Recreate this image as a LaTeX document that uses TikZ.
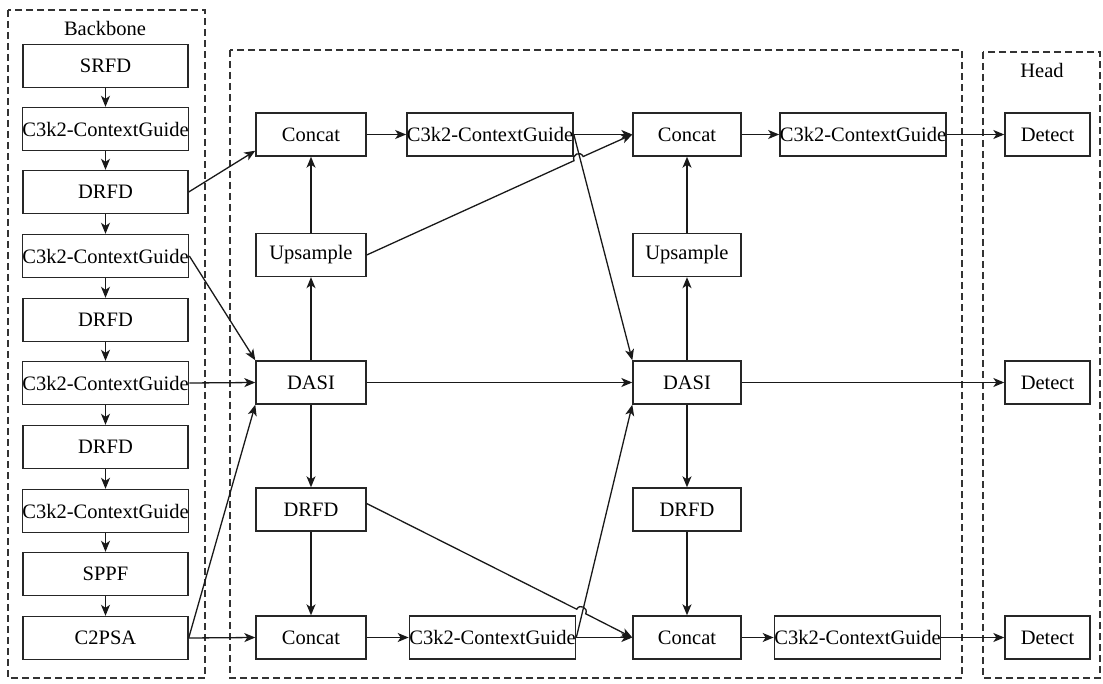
\documentclass[tikz,border=0pt]{standalone}
\usepackage{fontspec}
\setmainfont{Liberation Serif}
\usetikzlibrary{arrows.meta,calc}
\begin{document}
\begin{tikzpicture}[x=1pt,y=-1pt,
  box/.style={draw=black!85, line width=1.4pt, minimum height=43pt, inner sep=0pt,
    font=\fontsize{20.5}{24}\selectfont},
  bb/.style={box, minimum width=165pt},
  sm/.style={box, minimum width=110pt},
  wd/.style={box, minimum width=164pt},
  dt/.style={box, minimum width=85pt},
  ttl/.style={font=\fontsize{20.5}{24}\selectfont, inner sep=0pt},
  arr/.style={line width=1.3pt, draw=black!90, -{Stealth[length=11pt,width=9pt,inset=3pt]}},
  region/.style={draw=black!80, line width=1.3pt, dash pattern=on 7pt off 4pt},
]
\useasboundingbox (0,0) rectangle (1103,684);
% regions
\draw[region] (8,10) rectangle (205,678);
\draw[region] (230,50) rectangle (962,678);
\draw[region] (983,52) rectangle (1100,678);
\node[ttl] (tb) at (105,28) {Backbone};
\node[ttl] (th) at (1042,70) {Head};
% backbone
\node[bb] (b1)  at (105.5,66)  {SRFD};
\node[bb] (b2)  at (105.5,129) {C3k2-ContextGuide};
\node[bb] (b3)  at (105.5,192) {DRFD};
\node[bb] (b4)  at (105.5,256) {C3k2-ContextGuide};
\node[bb] (b5)  at (105.5,320) {DRFD};
\node[bb] (b6)  at (105.5,383) {C3k2-ContextGuide};
\node[bb] (b7)  at (105.5,447) {DRFD};
\node[bb] (b8)  at (105.5,511) {C3k2-ContextGuide};
\node[bb] (b9)  at (105.5,574) {SPPF};
\node[bb] (b10) at (105.5,638) {C2PSA};
% middle column 1
\node[sm] (c1) at (311,134.5) {Concat};
\node[sm] (u1) at (311,255)   {Upsample};
\node[sm] (d1) at (311,382.5) {DASI};
\node[sm] (r1) at (311,509.5) {DRFD};
\node[sm] (c5) at (311,637.5) {Concat};
% middle wide
\node[wd] (g1) at (490,134.5)   {C3k2-ContextGuide};
\node[wd] (g2) at (492.5,637.5) {C3k2-ContextGuide};
% middle column 3
\node[sm, minimum width=108pt] (c2) at (687,134.5) {Concat};
\node[sm, minimum width=108pt] (u2) at (687,255)   {Upsample};
\node[sm, minimum width=108pt] (d2) at (687,382.5) {DASI};
\node[sm, minimum width=108pt] (r2) at (687,509.5) {DRFD};
\node[sm, minimum width=108pt] (c6) at (687,637.5) {Concat};
% right wide
\node[wd] (g3) at (863,134.5)   {C3k2-ContextGuide};
\node[wd] (g4) at (857.5,637.5) {C3k2-ContextGuide};
% head
\node[dt] (t1) at (1047.5,134.5) {Detect};
\node[dt] (t2) at (1047.5,382.5) {Detect};
\node[dt] (t3) at (1047.5,637.5) {Detect};
% backbone chain
\foreach \a/\b in {b1/b2,b2/b3,b3/b4,b4/b5,b5/b6,b6/b7,b7/b8,b8/b9,b9/b10}
  \draw[arr] (\a) -- (\b);
% backbone to neck
\draw[arr] (b3.east) -- ($(c1.south west)+(0,-6)$);
\draw[arr] (b4.east) -- (d1.north west);
\draw[arr] (b6.east) -- (d1.west);
\draw[arr] (b10.east) -- (d1.south west);
\draw[arr] (b10.east) -- (c5.west);
% column 1
\draw[arr] (d1) -- (u1);
\draw[arr] (u1) -- (c1);
\draw[arr] (d1) -- (r1);
\draw[arr] (r1) -- (c5);
\draw[arr] (c1) -- (g1);
\draw[arr] (c5) -- (g2);
\draw[arr] (d1) -- (d2);
% crossing lines
\draw[arr] (g1.east) -- (c2.west);
\draw[arr] (g1.east) -- (d2.north west);
\draw[arr] (g2.east) -- (c6.west);
\draw[arr] (g2.east) -- (d2.south west);
% hops
\coordinate (hA) at (578.6,158.6);
\coordinate (hC) at (581.2,611.5);
\draw[arr] (u1.east) -- ($(hA)+(155.63:5)$)
  .. controls ($(hA)+(155.63:5)+(-114.37:6.6)$) and ($(hA)+(-24.37:5)+(-114.37:6.6)$)
  .. ($(hA)+(-24.37:5)$) -- (c2.west);
\draw[arr] ([yshift=6pt]r1.east) -- ($(hC)+(206.65:5)$)
  .. controls ($(hC)+(206.65:5)+(-63.35:6.6)$) and ($(hC)+(26.65:5)+(-63.35:6.6)$)
  .. ($(hC)+(26.65:5)$) -- (c6.west);
% column 3
\draw[arr] (d2) -- (u2);
\draw[arr] (u2) -- (c2);
\draw[arr] (d2) -- (r2);
\draw[arr] (r2) -- (c6);
\draw[arr] (c2) -- (g3);
\draw[arr] (c6) -- (g4);
% head
\draw[arr] (g3) -- (t1);
\draw[arr] (d2) -- (t2);
\draw[arr] (g4) -- (t3);
\end{tikzpicture}
\end{document}
